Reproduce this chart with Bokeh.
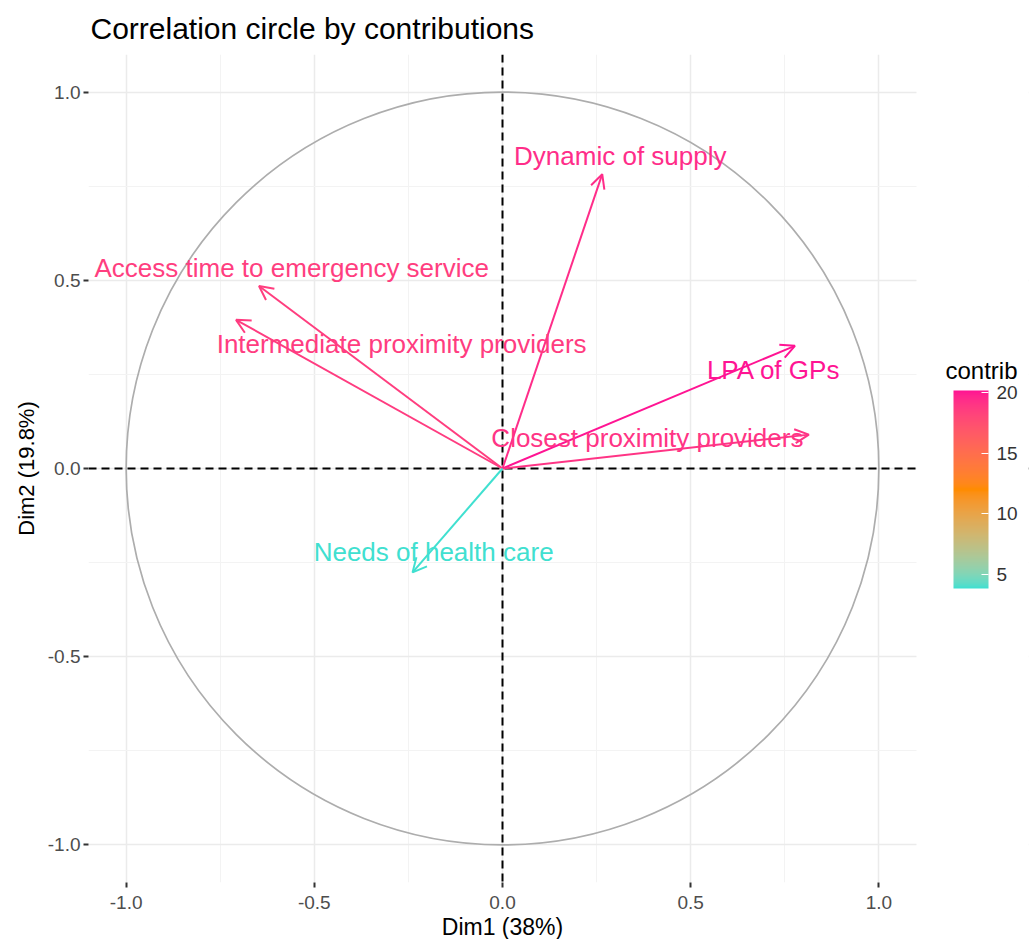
import numpy as np
from bokeh.plotting import figure
from bokeh.models import (Arrow, OpenHead, Span, ColorBar, LinearColorMapper, Label, BoxAnnotation,
                          FixedTicker, ColumnDataSource, Title, PrintfTickFormatter, Range1d)
from bokeh.embed import file_html
from bokeh.resources import INLINE
from bokeh.core.properties import value

# ---------------- data ----------------
variables = ["Dynamic of supply", "Access time to emergency service",
             "Intermediate proximity providers", "LPA of GPs",
             "Closest proximity providers", "Needs of health care"]
dim1 = [0.265, -0.647, -0.708, 0.777, 0.814, -0.239]
dim2 = [0.782, 0.485, 0.395, 0.326, 0.090, -0.276]
contrib = [19.4, 18.6, 18.7, 20.2, 19.1, 3.8]
label_x = [0.313, -0.560, -0.268, 0.721, 0.385, -0.183]
label_y = [0.830, 0.533, 0.332, 0.263, 0.082, -0.223]
axis_ticks = [-1.0, -0.5, 0.0, 0.5, 1.0]
minor_ticks = [-0.75, -0.25, 0.25, 0.75]
legend_ticks = [5, 10, 15, 20]
gradient_colors = ["#40E0D0", "#FF8C00", "#FF1493"]
x_title = "Dim1 (38%)"
y_title = "Dim2 (19.8%)"

FONT = "Liberation Sans"

# ---------------- palette (Lab interpolation, like ggplot) ----------------
def hex_to_rgb(h):
    h = h.lstrip("#")
    return np.array([int(h[i:i + 2], 16) for i in (0, 2, 4)], dtype=float) / 255.0

M = np.array([[0.4124, 0.3576, 0.1805], [0.2126, 0.7152, 0.0722], [0.0193, 0.1192, 0.9505]])
Minv = np.linalg.inv(M)
WHITE = np.array([0.95047, 1.0, 1.08883])

def rgb_to_lab(rgb):
    lin = np.where(rgb <= 0.04045, rgb / 12.92, ((rgb + 0.055) / 1.055) ** 2.4)
    xyz = M @ lin / WHITE
    f = np.where(xyz > 216 / 24389, np.cbrt(xyz), (24389 / 27 * xyz + 16) / 116)
    return np.array([116 * f[1] - 16, 500 * (f[0] - f[1]), 200 * (f[1] - f[2])])

def lab_to_hex(lab):
    fy = (lab[0] + 16) / 116
    fx = fy + lab[1] / 500
    fz = fy - lab[2] / 200
    f = np.array([fx, fy, fz])
    xyz = np.where(f ** 3 > 216 / 24389, f ** 3, (116 * f - 16) / (24389 / 27)) * WHITE
    lin = np.clip(Minv @ xyz, 0, 1)
    rgb = np.where(lin <= 0.0031308, 12.92 * lin, 1.055 * lin ** (1 / 2.4) - 0.055)
    rgb = np.clip(np.round(rgb * 255), 0, 255).astype(int)
    return "#%02x%02x%02x" % tuple(rgb)

anchors = [rgb_to_lab(hex_to_rgb(c)) for c in gradient_colors]
N = 256
palette = []
for k in range(N):
    t = k / (N - 1) * (len(anchors) - 1)
    i = min(int(t), len(anchors) - 2)
    u = t - i
    palette.append(lab_to_hex(anchors[i] * (1 - u) + anchors[i + 1] * u))

low, high = min(contrib), max(contrib)
colors = [palette[int(round((c - low) / (high - low) * (N - 1)))] for c in contrib]

# ---------------- layout ----------------
LIM = 1.1
FRAME_H = 828
FRAME_W = 940                      # frame also hosts the legend area on the right
px_per_unit = FRAME_H / (2 * LIM)
x_end = -LIM + FRAME_W / px_per_unit

p = figure(frame_width=FRAME_W, frame_height=FRAME_H,
           x_range=Range1d(-LIM, x_end), y_range=Range1d(-LIM, LIM),
           output_backend="svg", toolbar_location=None,
           min_border_left=88, min_border_right=2, min_border_top=10, min_border_bottom=4)
p.outline_line_color = None
p.background_fill_color = "white"
p.border_fill_color = "white"

p.add_layout(Title(text="Correlation circle by contributions", text_font_size="30px",
                   text_font=FONT, text_font_style="normal", text_color="black",
                   standoff=19, offset=2), "above")

for ax in (p.xaxis[0], p.yaxis[0]):
    ax.ticker = FixedTicker(ticks=axis_ticks, minor_ticks=minor_ticks)
    ax.formatter = PrintfTickFormatter(format="%.1f")
    ax.axis_line_color = None
    ax.major_tick_line_color = "#333333"
    ax.major_tick_line_width = 2
    ax.major_tick_out = 5
    ax.major_tick_in = 0
    ax.minor_tick_line_color = None
    ax.major_label_text_font = FONT
    ax.major_label_text_font_size = "19px"
    ax.major_label_text_color = "#4D4D4D"
    ax.axis_label_text_font = FONT
    ax.axis_label_text_font_size = "22px"
    ax.axis_label_text_font_style = "normal"
    ax.axis_label_text_color = "black"

p.xaxis.major_label_standoff = 8
p.yaxis.major_label_standoff = 3
p.yaxis.axis_label_standoff = 6
p.yaxis.axis_label = y_title

# x-axis title centred under the correlation panel (not the whole frame)
xt_size = 23
xt_width = 5.278 * xt_size            # Liberation Sans advance width of the title
p.add_layout(Title(text=x_title, text_font_size=f"{xt_size}px", text_font=FONT,
                   text_font_style="normal", text_color="black", align="left",
                   standoff=0, offset=LIM * px_per_unit - xt_width / 2), "below")

p.grid.grid_line_color = "#EBEBEB"
p.grid.grid_line_width = 1.5
p.grid.minor_grid_line_color = "#F3F3F3"
p.grid.minor_grid_line_width = 1

# unit circle
p.ellipse(x=[0], y=[0], width=[2], height=[2], fill_color=None,
          line_color="#ADADAD", line_width=1.7)

# dashed axes
p.add_layout(Span(location=0, dimension="height", line_color="black",
                  line_dash="8 5", line_width=2))
p.add_layout(Span(location=0, dimension="width", line_color="black",
                  line_dash="8 5", line_width=2))

# blank the legend area (outside the panel limits)
p.add_layout(BoxAnnotation(left=LIM, fill_color="white", fill_alpha=1.0,
                           line_color=None, line_alpha=0))

# arrows
for xe, ye, c in zip(dim1, dim2, colors):
    p.add_layout(Arrow(x_start=0, y_start=0, x_end=xe, y_end=ye, line_color=c, line_width=2,
                       end=OpenHead(size=14, line_color=c, line_width=2)))

src = ColumnDataSource(dict(x=label_x, y=label_y, text=variables, color=colors))
txt = p.text(x="x", y="y", text="text", source=src, text_color="color",
             text_font=value(FONT), text_font_size="26px",
             text_align="center", text_baseline="middle")
txt.level = "overlay"

# colour bar
mapper = LinearColorMapper(palette=palette, low=low, high=high)
cb = ColorBar(color_mapper=mapper, location=(865, 294), width=35, height=198, padding=0,
              ticker=FixedTicker(ticks=legend_ticks),
              major_label_text_font=FONT, major_label_text_font_size="19px",
              major_label_text_color="#333333",
              major_tick_line_color="white", major_tick_in=7, major_tick_out=0,
              minor_tick_line_color=None, label_standoff=8,
              bar_line_color=None, border_line_color=None, background_fill_color=None)
p.add_layout(cb, "center")
p.add_layout(Label(x=857, y=512, x_units="screen", y_units="screen", text="contrib",
                   text_font=FONT, text_font_size="24px", text_color="black",
                   text_align="left", text_baseline="middle", level="overlay"))

open("out.html", "w").write(file_html(p, INLINE))
